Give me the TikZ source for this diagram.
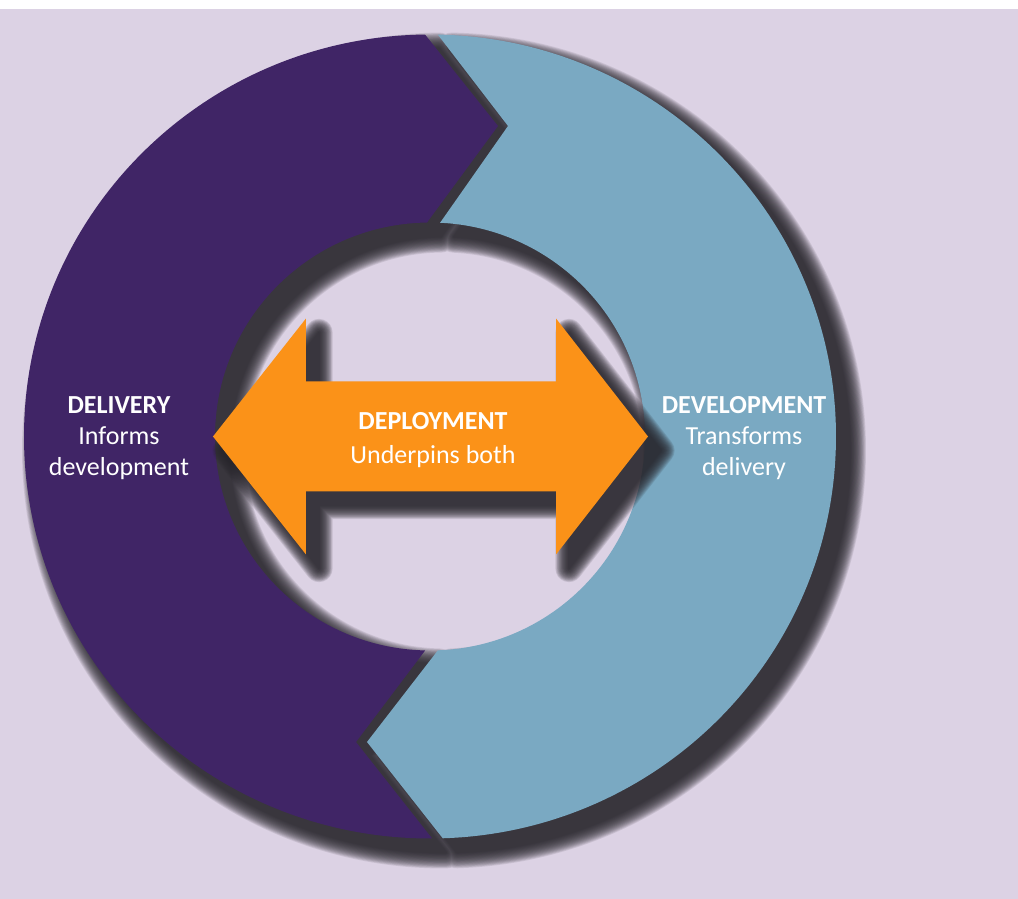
\documentclass[tikz,border=0pt]{standalone}
\usepackage{fontspec}
\setmainfont{Carlito}

\definecolor{bgLav}{HTML}{DCD2E4}
\definecolor{ringPurple}{HTML}{402566}
\definecolor{ringBlue}{HTML}{7AA9C2}
\definecolor{arrowOrange}{HTML}{FB9218}
\definecolor{shadowGrey}{HTML}{28262C}

% Segment outlines (origin at the ring centre)
\newcommand\deliverypath{%
  (90.7:406 and 402) arc[start angle=90.7, end angle=270.3, x radius=406, y radius=402]
  -- (-74,-305.5)
  -- (268.7:215 and 214) arc[start angle=268.7, end angle=90.8, x radius=215, y radius=214]
  -- (68,310.5) -- cycle}
\newcommand\developmentpath{%
  (88.9:406 and 402) arc[start angle=88.9, end angle=-88.2, x radius=406, y radius=402]
  -- (-63,-305.5)
  -- (-87.9:215 and 214) arc[start angle=-87.9, end angle=87.3, x radius=215, y radius=214]
  -- (78,310.5) -- cycle}
\newcommand\deploymentpath{%
  (-217,0) -- (-124,118) -- (-124,55) -- (126,55) -- (126,118) -- (218,0)
  -- (126,-118) -- (126,-55) -- (-124,-55) -- (-124,-118) -- cycle}

\tikzset{
  % one layer of a soft shadow: the shape grown by half the line width
  shadowlayer/.style={fill=shadowGrey, draw=shadowGrey, line width=#1, line join=round},
  lbl/.style={text=white, align=center, inner sep=0pt,
              font=\fontsize{26}{31}\selectfont},
}

\begin{document}
\begin{tikzpicture}[x=1pt, y=1pt]
  % page and backdrop
  \useasboundingbox (-430,-462.5) rectangle (588,436.5);
  \fill[white] (-430,-462.5) rectangle (588,436.5);
  \fill[bgLav] (-430,-462.5) rectangle (588,427.5);

  % ring shadow, stacked translucent layers
  \foreach \k in {1,...,20}{%
    \begin{scope}[transparency group, opacity=0.1, xshift=14, yshift=-14]
      \path[shadowlayer=1.6*\k] \deliverypath;
      \path[shadowlayer=1.6*\k] \developmentpath;
    \end{scope}}

  % ring segments
  \fill[ringPurple] \deliverypath;
  \fill[ringBlue] \developmentpath;

  % central double arrow and its shadow
  \foreach \k in {1,...,16}{%
    \begin{scope}[transparency group, opacity=0.125, xshift=13, yshift=-14]
      \path[shadowlayer=1.7*\k] \deploymentpath;
    \end{scope}}
  \fill[arrowOrange] \deploymentpath;

  % labels
  \node[lbl] (delivery) at (-311,-1.4) {\textbf{DELIVERY}\\Informs\\development};
  \node[lbl] (development) at (314,-1.4) {\textbf{DEVELOPMENT}\\Transforms\\delivery};
  \node[lbl, font=\fontsize{26}{34}\selectfont] (deployment) at (3,-3.2)
       {\textbf{DEPLOYMENT}\\Underpins both};
\end{tikzpicture}
\end{document}
